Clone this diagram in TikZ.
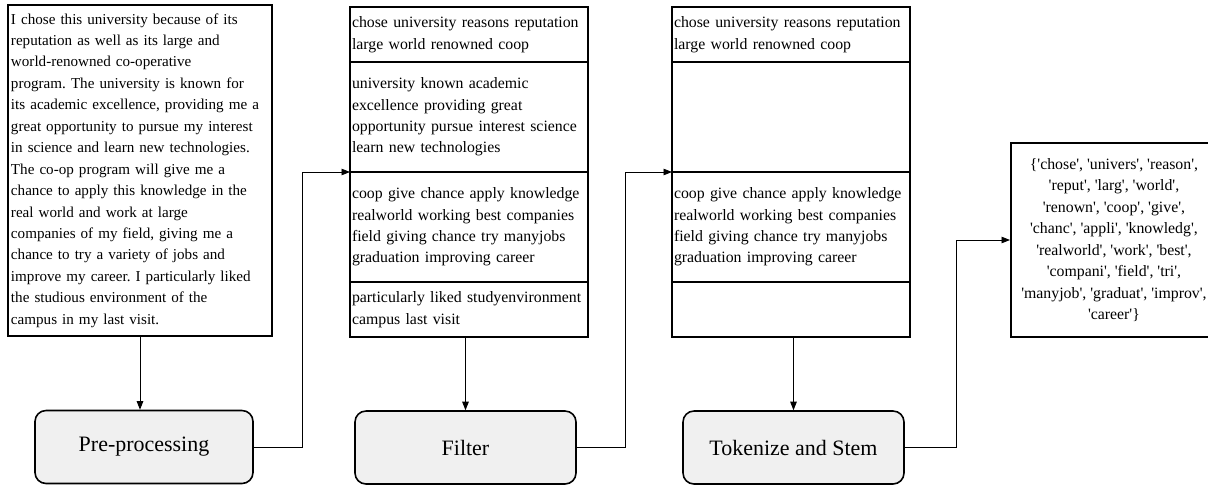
\documentclass[tikz,border=0pt]{standalone}
\usepackage{fontspec}
\setmainfont{Liberation Serif}
\usetikzlibrary{arrows.meta,positioning}
\definecolor{boxfill}{HTML}{F0F0F0}
\newcommand{\qt}[1]{\textquotesingle#1\textquotesingle}
\frenchspacing

\begin{document}
\begin{tikzpicture}[
  txt/.style={font=\fontsize{9}{12.2}\selectfont},
  seg/.style={draw,line width=0.6pt,outer sep=0pt,text width=4.68cm,inner xsep=0.04cm,inner ysep=0pt,align=left,txt},
  stage/.style={draw,line width=0.9pt,rounded corners=0.22cm,fill=boxfill,minimum width=4.42cm,minimum height=1.46cm,font=\fontsize{12.5}{15}\selectfont},
  flow/.style={-{Triangle[length=1.7mm,width=1.3mm]},line width=0.5pt}
]
  \useasboundingbox (0,0) rectangle (24.16,9.8);
  % Left: raw answer
  \node[draw,line width=1.1pt,font=\fontsize{8.6}{12.2}\selectfont,text width=5.16cm,inner xsep=0.06cm,minimum height=6.62cm,align=left] (raw) at (2.8,6.39)
    {I chose this university because of its\\
     reputation as well as its large and\\
     world-renowned co-operative\\
     program. The university is known for\\
     its academic excellence, providing me a\\
     great opportunity to pursue my interest\\
     in science and learn new technologies.\\
     The co-op program will give me a\\
     chance to apply this knowledge in the\\
     real world and work at large\\
     companies of my field, giving me a\\
     chance to try a variety of jobs and\\
     improve my career. I particularly liked\\
     the studious environment of the\\
     campus in my last visit.};
  \node[stage,minimum width=4.36cm] (pre) at (2.88,0.86) {Pre-processing};
  \draw[flow] (raw.south) -- (raw.south |- pre.north);
  \coordinate (k1) at (6.04,0);

  % Middle: cleaned sentences
  \node[seg,minimum height=1.1cm,anchor=north] (f1) at (9.38,9.66)
    {chose university reasons reputation\\large world renowned coop};
  \node[seg,minimum height=2.2cm,below=0pt of f1] (f2)
    {university known academic\\excellence providing great\\opportunity pursue interest science\\learn new technologies};
  \node[seg,minimum height=2.2cm,below=0pt of f2] (f3)
    {coop give chance apply knowledge\\realworld working best companies\\field giving chance try manyjobs\\graduation improving career};
  \node[seg,minimum height=1.1cm,below=0pt of f3] (f4)
    {particularly liked studyenvironment\\campus last visit};
  \node[stage] (filter) at (9.31,0.85) {Filter};
  \draw[flow] (filter.north |- f4.south) -- (filter.north);
  \draw[flow] (pre.east) -- (pre.east -| k1) |- (f3.north west);
  \coordinate (k2) at (12.5,0);

  % Right: kept sentences
  \node[seg,minimum height=1.1cm,anchor=north] (t1) at (15.82,9.66)
    {chose university reasons reputation\\large world renowned coop};
  \node[seg,minimum height=2.2cm,below=0pt of t1] (t2) {};
  \node[seg,minimum height=2.2cm,below=0pt of t2] (t3)
    {coop give chance apply knowledge\\realworld working best companies\\field giving chance try manyjobs\\graduation improving career};
  \node[seg,minimum height=1.1cm,below=0pt of t3] (t4) {};
  \node[stage] (tok) at (15.87,0.85) {Tokenize and Stem};
  \draw[flow] (tok.north |- t4.south) -- (tok.north);
  \draw[flow] (filter.east) -- (filter.east -| k2) |- (t3.north west);
  \coordinate (k3) at (19.12,0);

  % Output: stems
  \node[draw,line width=1.1pt,txt,align=center,minimum width=4.12cm,minimum height=3.88cm,anchor=west] (out) at (20.2,5.0)
    {\{\qt{chose}, \qt{univers}, \qt{reason},\\
     \qt{reput}, \qt{larg}, \qt{world},\\
     \qt{renown}, \qt{coop}, \qt{give},\\
     \qt{chanc}, \qt{appli}, \qt{knowledg},\\
     \qt{realworld}, \qt{work}, \qt{best},\\
     \qt{compani}, \qt{field}, \qt{tri},\\
     \qt{manyjob}, \qt{graduat}, \qt{improv},\\
     \qt{career}\}};
  \draw[flow] (tok.east) -- (tok.east -| k3) |- (out.west);
\end{tikzpicture}
\end{document}
